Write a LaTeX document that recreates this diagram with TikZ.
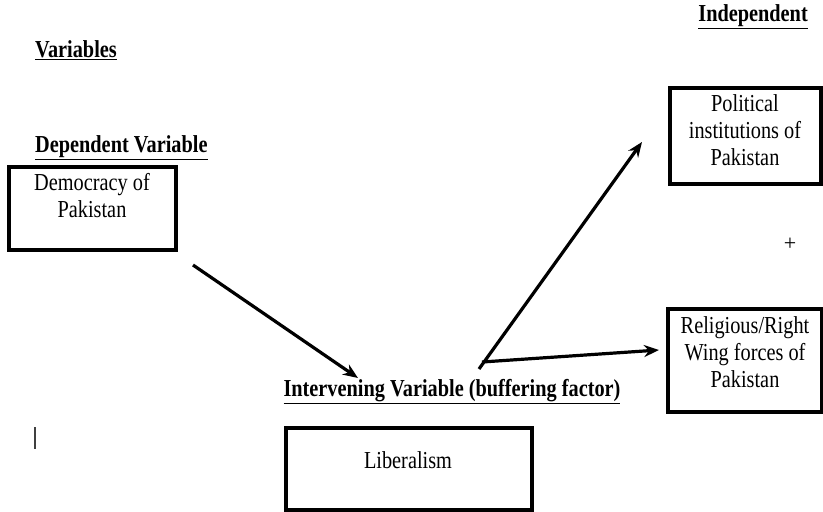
\documentclass[tikz,border=0pt]{standalone}
\usepackage{fontspec}
\setmainfont{Liberation Serif}
\usetikzlibrary{arrows.meta}
\newcommand{\tallt}[1]{\scalebox{1}[1.2]{#1}}
\newcommand{\lines}[1]{\tallt{\begin{tabular}{@{}c@{}}#1\end{tabular}}}
\tikzset{
  boxed/.style={draw, line width=3.6pt, rectangle, inner sep=0pt},
  body/.style={font=\fontsize{20.3}{22.6}\selectfont, inner sep=0pt, align=center},
  head/.style={font=\fontsize{20.3}{22.6}\selectfont\bfseries, inner sep=0pt},
  conn/.style={line width=3.2pt, -{Stealth[length=15pt,width=12pt]}},
}
\begin{document}
\begin{tikzpicture}[x=1pt,y=-1pt]
\useasboundingbox (0,0) rectangle (823,512);
% headings
\node[head, anchor=base west] (hvar) at (35,57) {\tallt{\underline{Variables}}};
\node[head, anchor=base west] (hdep) at (35,152) {\tallt{\underline{Dependent Variable}}};
\node[head, anchor=base east] (hind) at (808,21) {\tallt{\underline{Independent}}};
\node[head, anchor=base] (hint) at (452,396) {\tallt{\underline{Intervening Variable (buffering factor)}}};
% boxes
\draw[boxed] (9,167) rectangle (176,250);
\node[body] (dem) at (92,199) {\lines{Democracy of\\Pakistan}};
\draw[boxed] (670,88) rectangle (821,184);
\node[body] (pol) at (745,133) {\lines{Political\\institutions of\\Pakistan}};
\draw[boxed] (668,309) rectangle (822,412);
\node[body] (rel) at (745,355) {\lines{Religious/Right\\Wing forces of\\Pakistan}};
\draw[boxed] (286,428) rectangle (532,510);
\node[body] (lib) at (408,460) {\tallt{Liberalism}};
\node[font=\fontsize{22}{24}\selectfont, inner sep=0pt] (plus) at (790,244) {+};
% connectors
\coordinate (a1s) at (193,265);
\coordinate (a1e) at (358,378);
\coordinate (a2s) at (479,369);
\coordinate (a2e) at (642,142);
\coordinate (a3s) at (482,362);
\coordinate (a3e) at (659,350);
\draw[conn] (a1s) -- (a1e);
\draw[conn] (a2s) -- (a2e);
\draw[conn] (a3s) -- (a3e);
% cursor mark
\coordinate (c1) at (35,427);
\coordinate (c2) at (35,449);
\draw[line width=1.5pt, black!75] (c1) -- (c2);
\end{tikzpicture}
\end{document}
